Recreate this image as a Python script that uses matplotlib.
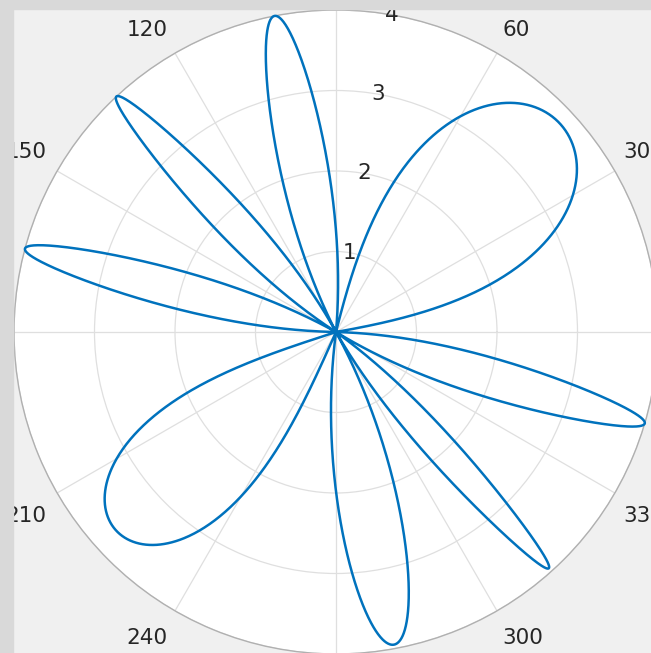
import numpy as np
import matplotlib
matplotlib.use('Agg')
import matplotlib.pyplot as plt
from matplotlib.patches import Rectangle

plt.rcParams['font.family'] = 'DejaVu Sans'

# petals of the rose
petal_centers = [43, 101, 133, 165, 222, 280.5, 312, 343.5]    # deg, direction of tip
petal_lengths = [3.8, 4.0, 4.0, 4.0, 3.68, 3.95, 3.95, 4.0]    # r at tip
petal_tipwidth = [45, 10, 6, 7, 36, 14, 5, 7]                  # deg, spread near the tip
petal_basewidth = [33, 16, 14, 14, 24, 18, 12, 15]             # deg, spread at the centre

theta_ticks = [0, 30, 60, 90, 120, 150, 180, 210, 240, 270, 300, 330]
r_ticks = [1, 2, 3, 4]

W, H = 651, 653
fig = plt.figure(figsize=(W / 100, H / 100), dpi=100)
fig.patch.set_facecolor('#f0f0f0')

# circle centre (336, 332) px from top-left, radius 322 px
R = 322
cx, cy = 336, H - 332
ax = fig.add_axes([(cx - R) / W, (cy - R) / H, 2 * R / W, 2 * R / H], projection='polar')
ax.set_facecolor('white')

# build the curve petal by petal
th_all = []
r_all = []
for c, L, a, wb in zip(petal_centers, petal_lengths, petal_tipwidth, petal_basewidth):
    t = np.linspace(-1, 1, 500)
    d = a * t + (wb - a) * t**3
    th_all.append(np.radians(c + d))
    r_all.append(L * np.cos(t * np.pi / 2))
th_all = np.concatenate(th_all)
r_all = np.concatenate(r_all)

ax.plot(th_all, r_all, color='#0072BD', lw=1.8, clip_on=False, zorder=5)

ax.set_ylim(0, 4)
ax.set_yticks(r_ticks)
ax.set_yticklabels([])
ax.set_xticks(np.radians(theta_ticks))
ax.set_xticklabels([])
ax.tick_params(length=0)
ax.grid(True, color='#dfdfdf', lw=0.9)
ax.spines['polar'].set_color('#b0b0b0')
ax.spines['polar'].set_linewidth(1.0)

# angle labels, placed like MATLAB does (left/right of an anchor ring)
# 0, 90, 180 and 270 fall outside the cropped window, so they are skipped
for a in theta_ticks:
    if a % 90 == 0:
        continue
    ca, sa = np.cos(np.radians(a)), np.sin(np.radians(a))
    ha = 'left' if ca > 0 else 'right'
    sgn = 1 if sa > 0 else -1
    x = cx + 332 * ca
    if ca < 0:
        x -= 2
    y = cy + 332 * sa + 16 * sgn - 8
    fig.text(x / W, y / H, str(a), ha=ha, va='baseline', fontsize=15.5, color='#262626')

for r in r_ticks:
    ax.text(np.radians(80), r, str(r), ha='center', va='center',
            fontsize=15.5, color='#262626', zorder=6)

# window frame edges seen at top and left of the screenshot
fig.add_artist(Rectangle((0, 1 - 9 / H), 1, 9 / H, transform=fig.transFigure,
                         color='#d9d9d9', zorder=10))
fig.add_artist(Rectangle((0, 0), 13 / W, 1, transform=fig.transFigure,
                         color='#d9d9d9', zorder=10))

fig.savefig('out.png', dpi=100, facecolor=fig.get_facecolor())
